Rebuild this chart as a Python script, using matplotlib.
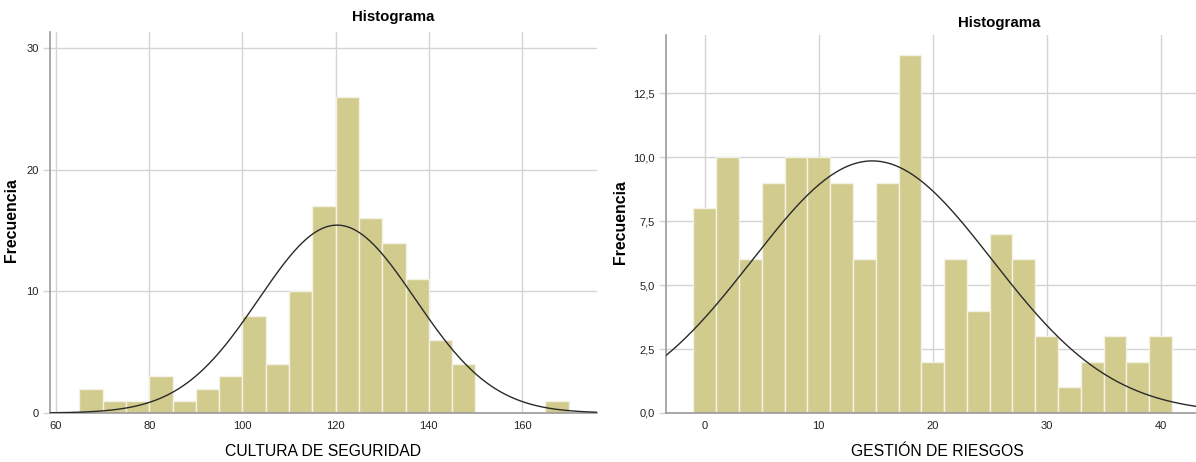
import matplotlib
matplotlib.use("Agg")
import matplotlib.pyplot as plt
import numpy as np

plt.rcParams['font.family'] = ['Liberation Sans', 'DejaVu Sans']

# CULTURA DE SEGURIDAD: bins of width 5 starting at 65
cultura_edges = np.arange(65, 175, 5)
cultura_counts = [2, 1, 1, 3, 1, 2, 3, 8, 4, 10, 17, 26, 16, 14, 11, 6, 4, 0, 0, 0, 1]
cultura_mean, cultura_sd = 120.3, 16.8

# GESTION DE RIESGOS: bins of width 2 starting at -1
gestion_edges = np.arange(-1, 43, 2)
gestion_counts = [8, 10, 6, 9, 10, 10, 9, 6, 9, 14, 2, 6, 4, 7, 6, 3, 1, 2, 3, 2, 3]
gestion_mean, gestion_sd = 14.7, 10.53

bar_color = '#d1cb8e'
grid_color = '#d4d4d4'
spine_color = '#9a9a9a'


def draw_hist(ax, edges, counts, mean, sd, xlim, ylim, xticks, yticks, ylabels):
    widths = np.diff(edges)
    n = sum(counts)
    ax.bar(edges[:-1], counts, width=widths, align='edge', color=bar_color,
           edgecolor='#f4f2e4', linewidth=1.0, zorder=2)
    xs = np.linspace(xlim[0], xlim[1], 400)
    pdf = np.exp(-0.5 * ((xs - mean) / sd) ** 2) / (sd * np.sqrt(2 * np.pi))
    ax.plot(xs, pdf * n * widths[0], color='#2a2a2a', linewidth=1.0, zorder=3)
    ax.set_xlim(*xlim)
    ax.set_ylim(*ylim)
    ax.set_xticks(xticks)
    ax.set_yticks(yticks)
    ax.set_yticklabels(ylabels)
    ax.grid(True, color=grid_color, linewidth=1.0, zorder=0)
    ax.set_axisbelow(True)
    for s in ['top', 'right']:
        ax.spines[s].set_visible(False)
    for s in ['left', 'bottom']:
        ax.spines[s].set_color(spine_color)
        ax.spines[s].set_linewidth(1.2)
    ax.tick_params(axis='x', length=0, labelsize=8, pad=6, colors='#222222')
    ax.tick_params(axis='y', length=5, width=1, labelsize=8, pad=3, colors='#222222')
    ax.tick_params(axis='y', color=grid_color)


fig = plt.figure(figsize=(11.96, 4.62), dpi=100)

ax1 = fig.add_axes([50 / 1196, 49 / 462, 547 / 1196, 381 / 462])
draw_hist(ax1, cultura_edges, cultura_counts, cultura_mean, cultura_sd,
          (58.7, 176.1), (0, 31.3), [60, 80, 100, 120, 140, 160],
          [0, 10, 20, 30], ['0', '10', '20', '30'])

ax2 = fig.add_axes([666 / 1196, 49 / 462, 530 / 1196, 378 / 462])
draw_hist(ax2, gestion_edges, gestion_counts, gestion_mean, gestion_sd,
          (-3.4, 43.1), (0, 14.77), [0, 10, 20, 30, 40],
          [0, 2.5, 5, 7.5, 10, 12.5], ['0,0', '2,5', '5,0', '7,5', '10,0', '12,5'])

fig.text(393 / 1196, 1 - 17 / 462, 'Histograma', ha='center', va='center',
         fontsize=10.8, fontweight='bold')
fig.text(999 / 1196, 1 - 23 / 462, 'Histograma', ha='center', va='center',
         fontsize=10.8, fontweight='bold')
fig.text(323 / 1196, 1 - 451 / 462, 'CULTURA DE SEGURIDAD', ha='center', va='center',
         fontsize=11.3)
fig.text(937 / 1196, 1 - 451 / 462, 'GESTIÓN DE RIESGOS', ha='center', va='center',
         fontsize=11.3)
fig.text(12 / 1196, 1 - 220 / 462, 'Frecuencia', ha='center', va='center',
         rotation=90, fontsize=11.4, fontweight='bold')
fig.text(620 / 1196, 1 - 222 / 462, 'Frecuencia', ha='center', va='center',
         rotation=90, fontsize=11.4, fontweight='bold')

fig.savefig('out.png', dpi=100)
